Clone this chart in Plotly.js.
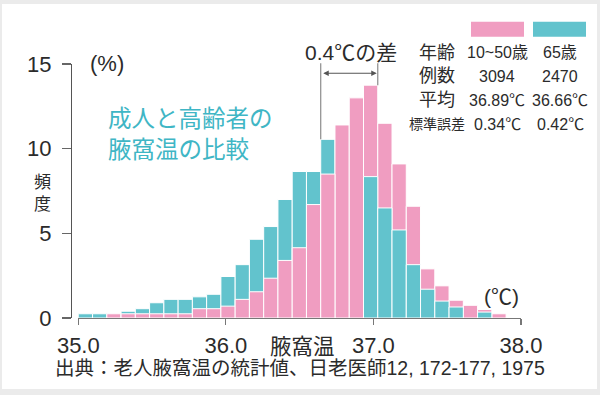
<!DOCTYPE html>
<html>
<head>
<meta charset="utf-8">
<script src="https://cdn.plot.ly/plotly-3.0.1.min.js"></script>
<style>
  html, body { margin: 0; padding: 0; background: #ebebeb; }
  #chart { width: 600px; height: 395px; }
</style>
</head>
<body>
<div id="chart"></div>
<script>
// ---- data ----
// lower edges of the 0.1 ℃ bins
const binStarts = [35.0, 35.1, 35.2, 35.3, 35.4, 35.5, 35.6, 35.7, 35.8, 35.9,
                   36.0, 36.1, 36.2, 36.3, 36.4, 36.5, 36.6, 36.7, 36.8, 36.9,
                   37.0, 37.1, 37.2, 37.3, 37.4, 37.5, 37.6, 37.7, 37.8, 37.9];
// frequency (%) – adults 10~50 years
const adult = [0, 0, 0.25, 0.25, 0.25, 0.25, 0.25, 0.25, 0.55, 0.55,
               0.7, 1.1, 1.55, 2.35, 3.4, 4.15, 6.7, 8.5, 11.4, 13.0,
               13.75, 11.5, 9.1, 6.6, 2.9, 1.9, 1.05, 0.75, 0.5, 0.25];
// frequency (%) – elderly 65 years (null = hidden behind the adult bars)
const elderly = [0.25, 0.25, 0, 0.4, 0.55, 0.9, 1.1, 1.1, 1.25, 1.4,
                 2.45, 3.15, 4.65, 5.4, 7.0, 8.65, 8.65, 10.55, null, null,
                 8.35, 6.5, 5.2, 3.15, 1.7, 1.0, 0.65, 0, 0.35, 0];
const xTicks = [35, 36, 37, 38];
const yTicks = [0, 5, 10, 15];
const tableRows = [
  ['年齢', '10~50歳', '65歳'],
  ['例数', '3094', '2470'],
  ['平均', '36.89℃', '36.66℃'],
  ['標準誤差', '0.34℃', '0.42℃']
];
const PINK = '#f09dc1';
const TEAL = '#62c3cd';

// ---- geometry helpers (pixel -> paper) ----
const ML = 71, MR = 79, MT = 64, MB = 77;
const PW = 600 - ML - MR, PH = 395 - MT - MB;
const P = px => (px - ML) / PW;
const Q = py => (395 - MB - py) / PH;

// ---- build overlapping bars: taller one behind, shorter one in front ----
const centers = binStarts.map(b => +(b + 0.05).toFixed(2));
const backY = [], backC = [], frontY = [], frontC = [];
for (let i = 0; i < binStarts.length; i++) {
  const a = adult[i] || 0, e = elderly[i] || 0;
  backY.push(Math.max(a, e) || null);
  backC.push(a >= e ? PINK : TEAL);
  if (a > 0 && e > 0) {
    frontY.push(Math.min(a, e));
    frontC.push(a < e ? PINK : TEAL);
  } else {
    frontY.push(null);
    frontC.push(PINK);
  }
}
const barCommon = {
  type: 'bar', x: centers, width: 0.1, xaxis: 'x2', yaxis: 'y',
  hoverinfo: 'skip', showlegend: false
};
const traces = [
  // helper (draws nothing) so that the temperature tick axis gets its subplot
  { type: 'scatter', mode: 'lines', x: [xTicks[0], xTicks[xTicks.length - 1]], y: [null, null],
    xaxis: 'x', yaxis: 'y', hoverinfo: 'skip', showlegend: false },
  Object.assign({}, barCommon, { y: backY, marker: { color: backC, line: { color: '#ffffff', width: 1 } } }),
  Object.assign({}, barCommon, { y: frontY, marker: { color: frontC, line: { color: '#ffffff', width: 1 } } })
];

const FONT = 'Liberation Sans, Arial, Noto Sans CJK JP, sans-serif';
const TXT = '#2b2b2b';
const ann = [];
function label(text, px, py, size, opts) {
  ann.push(Object.assign({
    text: text, xref: 'paper', yref: 'paper', x: P(px), y: Q(py),
    xanchor: 'center', yanchor: 'middle', showarrow: false,
    font: { family: FONT, size: size, color: TXT }
  }, opts || {}));
}

// title (teal)
label('成人と高齢者の<br>腋窩温の比較', 106, 132, 23.5,
      { xanchor: 'left', align: 'left', font: { family: 'Noto Sans CJK JP', size: 23.5, color: '#3fb6c5' } });
// units / axis labels
label('(%)', 106.5, 63, 22);
label('(℃)', 501, 296, 21);
label('頻<br>度', 42.5, 193, 17);
label('腋窩温', 302.5, 347, 21.5);
label('出典：老人腋窩温の統計値、日老医師12, 172-177, 1975', 300, 368, 19.5);
// difference label
label('0.4℃の差', 350.5, 52, 21);

// table
const colX = [437, 497, 560];
const rowY = [52.5, 76, 100, 124];
tableRows.forEach((row, r) => {
  row.forEach((cell, c) => {
    let size = 16;
    if (c === 0) size = (cell.length > 2) ? 14 : 18;
    label(cell, colX[c], rowY[r], size);
  });
});

// 0.4℃ difference guide lines (in bar-axis data units)
const yTopGuide = (395 - MB - 61.7) / (PH / 15);
const yArrow = (395 - MB - 73.3) / (PH / 15);
const lineAnn = (x, y0, y1) => ({
  x: x, y: y0, ax: x, ay: y1, xref: 'x2', yref: 'y', axref: 'x2', ayref: 'y',
  showarrow: true, arrowhead: 0, arrowwidth: 1.2, arrowcolor: '#8c8c8c',
  text: '', font: { size: 1 }, standoff: 0, startstandoff: 0
});
ann.push(lineAnn(binStarts[17], elderly[17], yTopGuide));
ann.push(lineAnn(binStarts[20] + 0.1, adult[20], yTopGuide));
ann.push({
  x: binStarts[20] + 0.1, y: yArrow, ax: binStarts[17], ay: yArrow,
  xref: 'x2', yref: 'y', axref: 'x2', ayref: 'y',
  showarrow: true, arrowhead: 2, arrowside: 'end+start', arrowsize: 1, arrowwidth: 1.1,
  arrowcolor: '#555', text: '', font: { size: 1 }, standoff: 1, startstandoff: 1
});

const shapes = [
  // white card on light grey page
  { type: 'rect', xref: 'paper', yref: 'paper', layer: 'below',
    x0: P(2), x1: P(597), y0: Q(389), y1: Q(4),
    fillcolor: '#ffffff', line: { width: 0 } },
  // legend swatches
  { type: 'rect', xref: 'paper', yref: 'paper', x0: P(471), x1: P(524), y0: Q(36.7), y1: Q(21.7),
    fillcolor: PINK, line: { width: 0 } },
  { type: 'rect', xref: 'paper', yref: 'paper', x0: P(533), x1: P(586), y0: Q(36.7), y1: Q(21.7),
    fillcolor: TEAL, line: { width: 0 } }
];

const xStart = (78.3 - ML) / PW;
const barSpan = (PW * (1 - xStart)) / 142.6;

const layout = {
  width: 600, height: 395,
  margin: { l: ML, r: MR, t: MT, b: MB, pad: 0 },
  paper_bgcolor: '#ebebeb',
  plot_bgcolor: 'rgba(0,0,0,0)',
  barmode: 'overlay',
  bargap: 0,
  showlegend: false,
  font: { family: FONT, color: TXT },
  xaxis: {
    domain: [xStart, 1], range: [35, 38], anchor: 'y',
    tickvals: xTicks, tickformat: '.1f',
    ticks: 'outside', ticklen: 6, tickwidth: 1.2, tickcolor: '#777',
    showline: true, linecolor: '#777', linewidth: 1.2,
    showgrid: false, zeroline: false,
    tickfont: { family: FONT, size: 22, color: TXT }, ticklabelstandoff: 1
  },
  xaxis2: {
    domain: [xStart, 1], range: [35, 35 + barSpan], overlaying: 'x', anchor: 'y',
    visible: false
  },
  yaxis: {
    range: [0, 15], anchor: 'free', position: 0,
    tickvals: yTicks,
    ticks: 'outside', ticklen: 9, tickwidth: 1.2, tickcolor: '#666',
    showline: true, linecolor: '#555', linewidth: 1.4,
    showgrid: false, zeroline: false,
    tickfont: { family: FONT, size: 22, color: TXT }, ticklabelstandoff: 6
  },
  annotations: ann,
  shapes: shapes
};

Plotly.newPlot('chart', traces, layout, { displayModeBar: false, staticPlot: true });
</script>
</body>
</html>
